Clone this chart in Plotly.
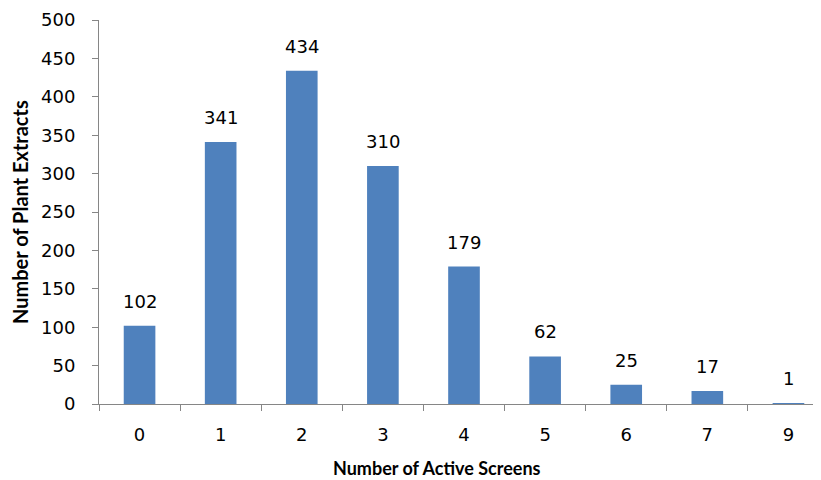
import plotly.graph_objects as go

categories = ["0", "1", "2", "3", "4", "5", "6", "7", "9"]
values = [102, 341, 434, 310, 179, 62, 25, 17, 1]
y_ticks = [0, 50, 100, 150, 200, 250, 300, 350, 400, 450, 500]

font_family = "DejaVu Sans"
title_family = "Lato"
bar_color = "#4F81BD"
axis_color = "#868686"

fig = go.Figure()
fig.add_trace(go.Bar(x=categories, y=values, marker=dict(color=bar_color, line=dict(width=0)),
                     width=0.39, hoverinfo="x+y"))

for i, v in enumerate(values):
    fig.add_annotation(x=i, y=v, text=str(v), showarrow=False, yanchor="bottom",
                       yshift=12, font=dict(family=font_family, size=18, color="#000000"))

fig.add_annotation(xref="paper", yref="paper", x=0, y=0.5, xshift=-79,
                   text="<b>Number of Plant Extracts</b>", textangle=-90, showarrow=False,
                   xanchor="center", yanchor="middle",
                   font=dict(family=title_family, size=20, color="#000000"))

fig.add_annotation(xref="paper", yref="paper", x=0.463, y=0, yshift=-64,
                   text="<b>Number of Active Screens</b>", showarrow=False,
                   xanchor="center", yanchor="middle",
                   font=dict(family=title_family, size=18, color="#000000"))

fig.update_layout(
    width=821, height=480,
    margin=dict(l=91, r=0, t=12, b=84),
    paper_bgcolor="white", plot_bgcolor="white",
    showlegend=False,
    font=dict(family=font_family, size=18, color="#000000"),
    xaxis=dict(
        type="category", range=[-0.5, 8.5],
        showline=True, linecolor=axis_color, linewidth=1,
        ticks="outside", tickson="boundaries", ticklen=6, tickcolor=axis_color,
        showgrid=False, zeroline=False,
        ticklabelstandoff=14,
    ),
    yaxis=dict(
        range=[0, 500], tickvals=y_ticks,
        showline=True, linecolor=axis_color, linewidth=1,
        ticks="outside", ticklen=6, tickcolor=axis_color,
        showgrid=False, zeroline=False,
        ticklabelstandoff=13,
    ),
)

fig.write_html("out.html")
